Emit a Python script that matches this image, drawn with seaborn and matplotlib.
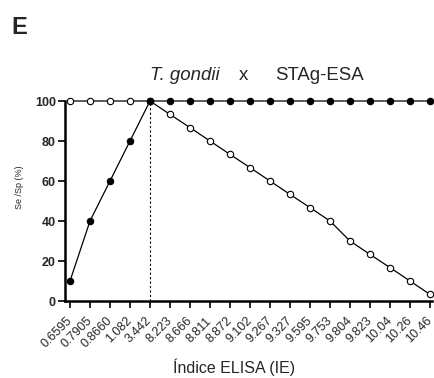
import matplotlib
matplotlib.use("Agg")
import matplotlib.pyplot as plt
import matplotlib.transforms as mtransforms
import seaborn as sns
import pandas as pd

# ELISA index cut-offs and the resulting sensitivity / specificity (%)
cutoffs = ["0.6595", "0.7905", "0.8660", "1.082", "3.442", "8.223", "8.666",
           "8.811", "8.872", "9.102", "9.267", "9.327", "9.595", "9.753",
           "9.804", "9.823", "10.04", "10.26", "10.46"]
sensitivity = [100, 100, 100, 100, 100, 93.3, 86.7, 80.0, 73.3, 66.7, 60.0,
               53.3, 46.7, 40.0, 30.0, 23.3, 16.7, 10.0, 3.3]
specificity = [10, 40, 60, 80, 100, 100, 100, 100, 100, 100, 100, 100, 100,
               100, 100, 100, 100, 100, 100]
best_cutoff = "3.442"
yticks = [0, 20, 40, 60, 80, 100]

sns.set_theme(style="ticks")
plt.rcParams["font.family"] = ["Liberation Sans", "DejaVu Sans"]

W, H = 435, 378
df = pd.DataFrame({"pos": range(len(cutoffs)), "cutoff": cutoffs,
                   "Se": sensitivity, "Sp": specificity})

fig = plt.figure(figsize=(W / 100, H / 100), dpi=100)
ax = fig.add_axes([65 / W, 1 - 301 / H, 367 / W, 200 / H])

# open circles: sensitivity
sns.lineplot(data=df, x="pos", y="Se", ax=ax, color="black", lw=0.9,
             marker="o", markersize=4.6, markerfacecolor="white",
             markeredgecolor="black", markeredgewidth=0.8, clip_on=False,
             zorder=3)
# filled circles: specificity
sns.lineplot(data=df, x="pos", y="Sp", ax=ax, color="black", lw=0.9,
             marker="o", markersize=4.6, markerfacecolor="black",
             markeredgecolor="black", markeredgewidth=0.8, clip_on=False,
             zorder=4)

# cut-off where both curves meet
bi = cutoffs.index(best_cutoff)
ax.plot([bi, bi], [0, 100], color="black", lw=0.8, ls=(0, (2, 2)), zorder=2)

ax.set_xlim(-0.25, len(cutoffs) - 0.9)
ax.set_ylim(0, 100)
ax.set_xticks(range(len(cutoffs)))
ax.set_xticklabels(cutoffs, rotation=45, ha="right", va="center",
                   rotation_mode="anchor", fontsize=9)
shift = mtransforms.ScaledTranslation(-2.5 / 100, 0, fig.dpi_scale_trans)
for lab in ax.get_xticklabels():
    lab.set_transform(lab.get_transform() + shift)
ax.set_yticks(yticks)
ax.set_yticklabels([str(v) for v in yticks], fontsize=9, fontweight="bold")
ax.tick_params(axis="both", direction="out", length=5, width=1.2,
               color="black")
ax.tick_params(axis="y", pad=1.5)
ax.tick_params(axis="x", pad=8)
for side in ("left", "bottom"):
    ax.spines[side].set_linewidth(1.8)
    ax.spines[side].set_color("black")
sns.despine(ax=ax)
ax.grid(False)
ax.set_xlabel("")
ax.set_ylabel("")

# axis titles
fig.text(234 / W, 1 - 373 / H, "Índice ELISA (IE)", ha="center",
         va="baseline", fontsize=11.5)
fig.text(20 / W, 1 - 187 / H, "Se /Sp (%)", ha="center", va="center",
         rotation=90, fontsize=6.5)

# heading
fig.text(150 / W, 1 - 80.5 / H, "T. gondii", ha="left", va="baseline",
         fontsize=13.4, fontstyle="italic")
fig.text(239 / W, 1 - 80.5 / H, "x", ha="left", va="baseline", fontsize=13.4)
fig.text(275 / W, 1 - 80.5 / H, "STAg-ESA", ha="left", va="baseline",
         fontsize=13.4)
fig.text(11 / W, 1 - 34 / H, "E", ha="left", va="baseline",
         fontsize=17, fontweight="bold")

fig.savefig("out.png", dpi=100)
